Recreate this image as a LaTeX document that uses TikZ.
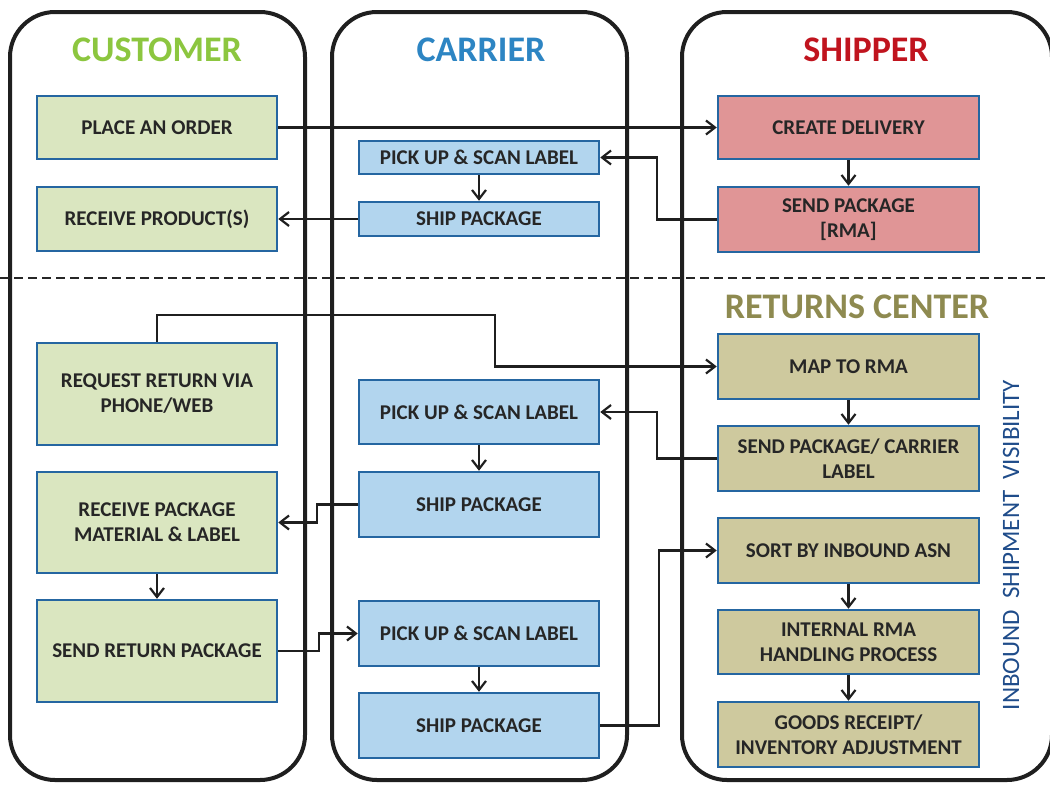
\documentclass[tikz,border=0pt]{standalone}
\usepackage{fontspec}
\setmainfont{Carlito}
\usepackage{xcolor}
\usepackage{tikz}
\usetikzlibrary{arrows.meta,positioning,calc}
\definecolor{boxline}{HTML}{2566A1}
\definecolor{custfill}{HTML}{DAE6C0}
\definecolor{carrfill}{HTML}{B2D5EE}
\definecolor{shipfill}{HTML}{E09596}
\definecolor{retfill}{HTML}{CEC99E}
\definecolor{custtitle}{HTML}{8CC63F}
\definecolor{carrtitle}{HTML}{2D85C3}
\definecolor{shiptitle}{HTML}{C0141E}
\definecolor{rettitle}{HTML}{8E8A50}
\definecolor{vistitle}{HTML}{1F4C8A}

\begin{document}
\begin{tikzpicture}[x = 1pt, y = -1pt,
  lane/.style = {draw = black!88, line width = 4pt, rounded corners = 45pt},
  box/.style = {draw = boxline, line width = 2.5pt, inner sep = 0pt, align = center,
    text = black!85, font = \fontsize{21}{25}\selectfont\bfseries},
  cust/.style = {box, fill = custfill, minimum width = 240pt},
  carr/.style = {box, fill = carrfill, minimum width = 240pt},
  ship/.style = {box, fill = shipfill, minimum width = 261pt},
  ret/.style = {box, fill = retfill, minimum width = 261pt},
  title/.style = {font = \fontsize{36}{40}\selectfont\bfseries},
  flow/.style = {-{Straight Barb[length = 9pt, width = 14pt]}, line width = 2.2pt, black!88}]
\useasboundingbox (0,0) rectangle (1050,785);
\draw[lane] (10,12) rectangle (305,780);
\draw[lane] (332,12) rectangle (627,780);
\draw[lane] (682,12) rectangle (1052,780);
\draw[black!85, line width = 2pt, dash pattern = on 9pt off 5pt] (0,278) -- (1050,278);
\node[title, text = custtitle] (tcust) at (157,50) {CUSTOMER};
\node[title, text = carrtitle] (tcarr) at (481,50) {CARRIER};
\node[title, text = shiptitle] (tship) at (866,50) {SHIPPER};
\node[title, text = rettitle] (tret) at (857,307) {RETURNS CENTER};
\node[rotate = 90, text = vistitle, font = \fontsize{25}{28}\selectfont] (tvis) at (1011,545) {INBOUND\ \ SHIPMENT\ \ VISIBILITY};
\node[cust, minimum height = 63pt] (order) at (157,127.5) {PLACE AN ORDER};
\node[cust, minimum height = 64pt] (receive) at (157,219) {RECEIVE PRODUCT(S)};
\node[cust, minimum height = 102pt] (request) at (157,394) {REQUEST RETURN VIA\\PHONE/WEB};
\node[cust, minimum height = 101pt] (rcvpkg) at (157,522.5) {RECEIVE PACKAGE\\MATERIAL \& LABEL};
\node[cust, minimum height = 102pt] (sendret) at (157,651) {SEND RETURN PACKAGE};
\node[carr, minimum height = 33pt] (pick1) at (479,157.5) {PICK UP \& SCAN LABEL};
\node[carr, minimum height = 34pt] (ship1) at (479,219) {SHIP PACKAGE};
\node[carr, minimum height = 64pt] (pick2) at (479,412) {PICK UP \& SCAN LABEL};
\node[carr, minimum height = 65pt] (ship2) at (479,504.5) {SHIP PACKAGE};
\node[carr, minimum height = 65pt] (pick3) at (479,633.5) {PICK UP \& SCAN LABEL};
\node[carr, minimum height = 65pt] (ship3) at (479,725.5) {SHIP PACKAGE};
\node[ship, minimum height = 63pt] (create) at (848.5,127.5) {CREATE DELIVERY};
\node[ship, minimum height = 65pt] (sendrma) at (848.5,219.5) {SEND PACKAGE\\{[}RMA{]}};
\node[ret, minimum height = 65pt] (map) at (848.5,366.5) {MAP TO RMA};
\node[ret, minimum height = 65pt] (sendlbl) at (848.5,458.5) {SEND PACKAGE/ CARRIER\\LABEL};
\node[ret, minimum height = 65pt] (sort) at (848.5,550.5) {SORT BY INBOUND ASN};
\node[ret, minimum height = 64pt] (internal) at (848.5,642) {INTERNAL RMA\\HANDLING PROCESS};
\node[ret, minimum height = 65pt] (goods) at (848.5,734.5) {GOODS RECEIPT/\\INVENTORY ADJUSTMENT};
% outbound
\draw[flow] (order.east) -- (create.west);
\draw[flow] (create) -- (sendrma);
\draw[flow] (sendrma.west) -- ++(-60,0) |- (pick1.east);
\draw[flow] (pick1) -- (ship1);
\draw[flow] (ship1.west) -- (receive.east);
% returns
\draw[flow] (request.north) -- ++(0,-27) -- ++(338,0) |- (map.west);
\draw[flow] (map) -- (sendlbl);
\draw[flow] (sendlbl.west) -- ++(-60,0) |- (pick2.east);
\draw[flow] (pick2) -- (ship2);
\draw[flow] (ship2.west) -- ++(-41,0) |- (rcvpkg.east);
\draw[flow] (rcvpkg) -- (sendret);
\draw[flow] (sendret.east) -- ++(41,0) |- (pick3.west);
\draw[flow] (pick3) -- (ship3);
\draw[flow] (ship3.east) -- ++(59,0) |- (sort.west);
\draw[flow] (sort) -- (internal);
\draw[flow] (internal) -- (goods);
\end{tikzpicture}
\end{document}
